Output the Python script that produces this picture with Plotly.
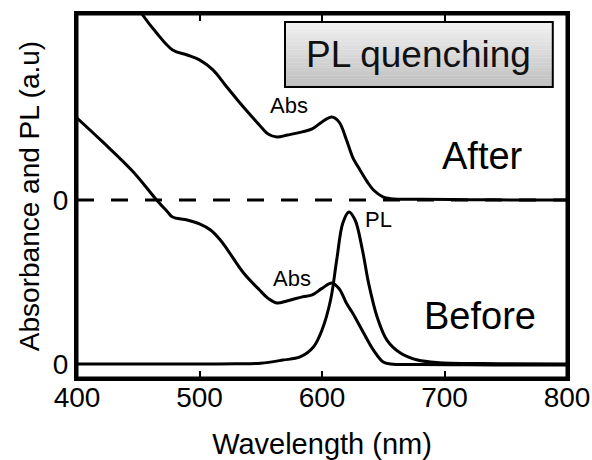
import plotly.graph_objects as go

# ---- data (wavelength in nm, intensity in a.u.; "After" curves offset by 1) ----
after_offset = 1.0

after_abs_nm = [400, 425, 440, 453, 465, 478, 490, 500, 511, 521, 531, 543, 551, 556, 563,
                572, 584, 592, 600, 608, 614, 620, 625, 631, 637, 642, 650, 656, 680, 720, 760, 800]
after_abs_val = [1.75, 1.45, 1.29, 1.134, 1.018, 0.915, 0.884, 0.854, 0.793, 0.701, 0.610, 0.506,
                 0.439, 0.402, 0.384, 0.396, 0.415, 0.433, 0.476, 0.506, 0.475, 0.366,
                 0.262, 0.183, 0.110, 0.061, 0.018, 0.008, 0.004, 0.002, 0.0, 0.0]

before_abs_nm = [400, 421, 446, 465, 474, 478, 490, 500, 509, 517, 523, 536, 549, 556, 563, 572,
                 584, 592, 600, 608, 614, 620, 625, 634, 642, 650, 656, 680, 720, 760, 800]
before_abs_val = [1.5, 1.354, 1.171, 1.0, 0.927, 0.896, 0.878, 0.854, 0.817, 0.756, 0.695, 0.555,
                  0.451, 0.40, 0.372, 0.386, 0.409, 0.421, 0.461, 0.494, 0.459, 0.37, 0.311,
                  0.189, 0.085, 0.012, 0.0, -0.003, -0.005, -0.006, -0.006]

pl_nm = [400, 450, 500, 530, 550, 568, 582, 593, 600, 607, 612, 617, 622, 627, 633, 638, 645,
         653, 664, 678, 696, 745, 800]
pl_val = [0.0, 0.0, 0.0, 0.001, 0.005, 0.024, 0.043, 0.104, 0.207, 0.390, 0.634, 0.860, 0.927,
          0.878, 0.695, 0.494, 0.287, 0.146, 0.067, 0.024, 0.008, 0.002, 0.0]

ref_nm = [400, 800]
ref_val = [0.0, 0.0]

x_ticks = [400, 500, 600, 700, 800]
y_ticks = [0.0, after_offset]
y_ticktext = ["0", "0"]

labels = [
    ("Abs", 573, 1.579, 22),
    ("Abs", 575.5, 0.524, 22),
    ("PL", 646.5, 0.878, 22),
    ("After", 731.4, 1.268, 38),
    ("Before", 729, 0.293, 38),
]

FONT = "Liberation Sans, Arial, sans-serif"
LW = 3

fig = go.Figure()

# dashed zero line for the "After" spectrum
fig.add_trace(go.Scatter(x=ref_nm, y=[v + after_offset for v in ref_val], mode="lines",
                         line=dict(color="black", width=LW, dash="17px,17px"),
                         hoverinfo="skip", showlegend=False))
# After absorbance
fig.add_trace(go.Scatter(x=after_abs_nm, y=[v + after_offset for v in after_abs_val],
                         mode="lines", line=dict(color="black", width=LW, shape="spline", smoothing=1.0),
                         showlegend=False))
# Before absorbance
fig.add_trace(go.Scatter(x=before_abs_nm, y=before_abs_val, mode="lines",
                         line=dict(color="black", width=LW, shape="spline", smoothing=1.0),
                         showlegend=False))
# Before PL
fig.add_trace(go.Scatter(x=pl_nm, y=pl_val, mode="lines",
                         line=dict(color="black", width=LW, shape="spline", smoothing=1.0),
                         showlegend=False))

for txt, xx, yy, fs in labels:
    fig.add_annotation(x=xx, y=yy, text=txt, showarrow=False,
                       font=dict(family=FONT, size=fs, color="black"),
                       xanchor="center", yanchor="middle")

# "PL quenching" box with vertical gradient (stacked bands)
bx0, bx1, by0, by1 = 0.4245, 0.971, 0.7995, 0.978
nb = 40
c_top, c_bot = 242, 190
for i in range(nb):
    t = (i + 0.5) / nb
    g = int(round(c_top + (c_bot - c_top) * t))
    ya = by1 - (by1 - by0) * i / nb
    yb = by1 - (by1 - by0) * (i + 1) / nb
    fig.add_shape(type="rect", xref="paper", yref="paper", x0=bx0, x1=bx1, y0=yb, y1=ya + 0.001,
                  line=dict(width=0), fillcolor=f"rgb({g},{g},{g})", layer="above")
fig.add_shape(type="rect", xref="paper", yref="paper", x0=bx0, x1=bx1, y0=by0, y1=by1,
              line=dict(color="black", width=2), fillcolor="rgba(0,0,0,0)", layer="above")
fig.add_annotation(xref="paper", yref="paper", x=(bx0 + bx1) / 2, y=(by0 + by1) / 2,
                   text="PL quenching", showarrow=False,
                   font=dict(family=FONT, size=37, color="#111111"),
                   xanchor="center", yanchor="middle")

# plot frame
fig.add_shape(type="rect", xref="paper", yref="paper", x0=0, x1=1, y0=0, y1=1,
              line=dict(color="black", width=LW), fillcolor="rgba(0,0,0,0)", layer="above")

fig.update_layout(
    width=592, height=460,
    margin=dict(l=77, r=25, t=14, b=82, autoexpand=False),
    paper_bgcolor="white", plot_bgcolor="white",
    font=dict(family=FONT, color="black"),
    showlegend=False,
)
fig.update_xaxes(range=[400, 800], tickvals=x_ticks, ticks="inside", ticklen=7, tickwidth=2,
                 tickcolor="black", showline=True, linewidth=LW, linecolor="black", mirror="ticks",
                 showgrid=False, zeroline=False, automargin=False, ticklabelstandoff=-8,
                 tickfont=dict(family=FONT, size=28, color="black"),
                 title=dict(text="Wavelength (nm)", font=dict(family=FONT, size=29, color="black"),
                            standoff=30))
fig.update_yaxes(range=[-0.0854, 2.134], tickvals=y_ticks, ticktext=y_ticktext, ticks="inside",
                 ticklen=7, tickwidth=2, tickcolor="black", showline=True, linewidth=LW,
                 linecolor="black", mirror=True, showgrid=False, zeroline=False, automargin=False,
                 tickfont=dict(family=FONT, size=28, color="black"),
                 title=dict(text="Absorbance and PL (a.u)", font=dict(family=FONT, size=28, color="black"),
                            standoff=6))

# remove the default 8px page margin so the 592x460 figure fills the window exactly
fig.write_html("out.html", config={"displayModeBar": False},
               post_script="document.body.style.margin='0';")
